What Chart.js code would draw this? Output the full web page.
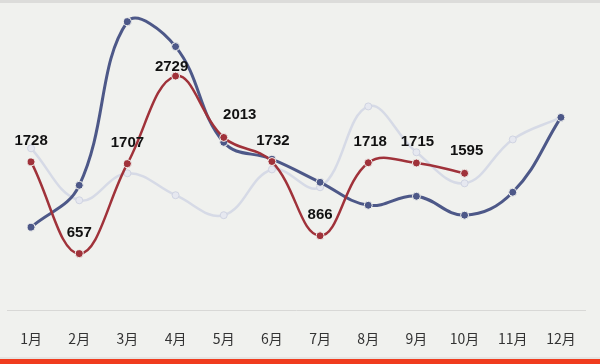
<!DOCTYPE html>
<html>
<head>
<meta charset="utf-8">
<script src="https://cdn.jsdelivr.net/npm/chart.js@4/dist/chart.umd.min.js"></script>
<style>
  html, body { margin: 0; padding: 0; background: #f0f1ee; }
  #wrap { position: relative; width: 600px; height: 364px; overflow: hidden; }
</style>
</head>
<body>
<div id="wrap"><canvas id="SalesChart" width="600" height="364"></canvas></div>
<script>
// data
var months = ["1月", "2月", "3月", "4月", "5月", "6月", "7月", "8月", "9月", "10月", "11月", "12月"];
var redSeries = [1728, 657, 1707, 2729, 2013, 1732, 866, 1718, 1715, 1595, null, null];
var blueSeries = [966, 1455, 3364, 3073, 1956, 1760, 1490, 1222, 1327, 1106, 1374, 2247];
var lightSeries = [1886, 1280, 1595, 1339, 1106, 1640, 1432, 2375, 1840, 1478, 1990, 2247];

//background, top line and red strip
var framePlugin = {
  id: "frame",
  beforeDraw: function(chart) {
    var ctx = chart.ctx;
    ctx.save();
    ctx.fillStyle = "#f0f1ee";
    ctx.fillRect(0, 0, chart.width, chart.height);
    ctx.fillStyle = "#dcdcda";
    ctx.fillRect(0, 0, chart.width, 3);
    ctx.fillStyle = "#e4e4e2";
    ctx.fillRect(0, 357, chart.width, 2);
    ctx.fillStyle = "#f03c1e";
    ctx.fillRect(0, 359, chart.width, 5);
    ctx.restore();
  }
};

//value labels over the red line
var labelPlugin = {
  id: "redLabels",
  afterDatasetsDraw: function(chart) {
    var ctx = chart.ctx;
    var meta = chart.getDatasetMeta(0);
    var dx = [0, 0, 0, -4, 16, 1, 0, 2, 1, 2];
    var dy = [21, 21, 21, 9, 23, 21, 21, 21, 21, 22];
    ctx.save();
    ctx.font = "bold 15px 'Liberation Sans', Arial, sans-serif";
    ctx.fillStyle = "#111";
    ctx.textAlign = "center";
    ctx.textBaseline = "middle";
    meta.data.forEach(function(pt, i) {
      if (redSeries[i] == null) return;
      ctx.fillText(String(redSeries[i]), pt.x + dx[i], pt.y - dy[i]);
    });
    ctx.restore();
  }
};

var salesCanvas = document.getElementById("SalesChart").getContext("2d");
var sales_chart = new Chart(salesCanvas, {
  type: "line",
  data: {
    labels: months,
    datasets: [
      {
        label: "red",
        data: redSeries,
        borderColor: "#a0323a",
        backgroundColor: "#a0323a",
        borderWidth: 2.5,
        pointRadius: 4,
        pointBackgroundColor: "#a0323a",
        pointBorderColor: "#f0f1ee",
        pointBorderWidth: 1,
        tension: 0.4,
        order: 1
      },
      {
        label: "blue",
        data: blueSeries,
        borderColor: "#4d5888",
        backgroundColor: "#4d5888",
        borderWidth: 3,
        pointRadius: 4,
        pointBackgroundColor: "#4d5888",
        pointBorderColor: "#f0f1ee",
        pointBorderWidth: 1,
        tension: 0.4,
        order: 2
      },
      {
        label: "light",
        data: lightSeries,
        borderColor: "#d6dae6",
        backgroundColor: "#d6dae6",
        borderWidth: 2.5,
        pointRadius: 3.5,
        pointBackgroundColor: "#e6e8f0",
        pointBorderColor: "#d0d4e2",
        pointBorderWidth: 1,
        tension: 0.4,
        order: 3
      }
    ]
  },
  options: {
    responsive: false,
    animation: false,
    layout: { padding: { left: 3, right: 15, top: 10, bottom: 18 } },
    plugins: {
      legend: { display: false },
      tooltip: { enabled: false }
    },
    scales: {
      x: {
        offset: true,
        grid: { display: false, drawTicks: false },
        border: { display: true, color: "#d8d8d6", width: 1 },
        afterFit: function(scale) { scale.height = 36; },
        ticks: {
          color: "#333",
          padding: 20,
          maxRotation: 0,
          font: { family: "'Noto Sans CJK SC', sans-serif", size: 14 }
        }
      },
      y: {
        display: false,
        min: 0,
        max: 3500
      }
    }
  },
  plugins: [framePlugin, labelPlugin]
});
</script>
</body>
</html>
